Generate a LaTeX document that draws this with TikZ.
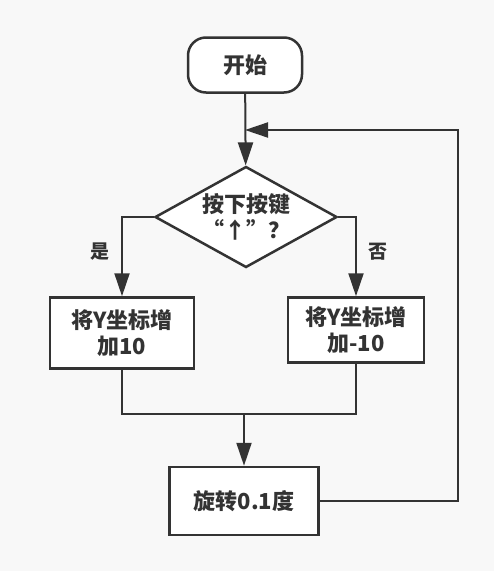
\documentclass[tikz,border=0pt]{standalone}
\usepackage{fontspec}
\newfontfamily\cjk{Noto Sans CJK SC}
\usetikzlibrary{shapes.geometric,arrows.meta}
\definecolor{bg}{HTML}{F8F8F8}
\definecolor{ink}{HTML}{333333}

\begin{document}
\begin{tikzpicture}
[x=1pt,y=-1pt,%%%%%%%%%%%%%%%%%%%%%%%%%%%%%%
txt/.style={text=ink,font=\cjk\bfseries\fontsize{22}{26}\selectfont,align=center,inner sep=0pt},
box/.style={txt,rectangle,draw=ink,line width=2.5pt,fill=white},
startbox/.style={box,rounded corners=18pt,minimum width=114pt,minimum height=55pt},
decbox/.style={txt,diamond,aspect=1.8,draw=ink,line width=2.5pt,fill=white,minimum width=182pt,minimum height=101pt},
lbl/.style={text=ink,font=\cjk\bfseries\fontsize{19}{22}\selectfont,inner sep=0pt},
arr/.style={draw=ink,line width=2pt,-{Triangle[length=23pt,width=15pt]}},
ln/.style={draw=ink,line width=2pt},
]%%%%%%%%%%%%%%%%%%%%%%%%%%%%%%

\useasboundingbox[fill=bg] (0,0) rectangle (494,571);

\node[startbox] (start) at (245,65){开始};
\node[decbox] (dec) at (246,217){按下按键\\“↑”？};
\node[box,minimum width=144pt,minimum height=71pt] (yes) at (122,333){将Y坐标增\\加10};
\node[box,minimum width=136pt,minimum height=65pt] (no) at (356,330){将Y坐标增\\加-10};
\node[box,minimum width=149pt,minimum height=68pt] (rot) at (244,501){旋转0.1度};

\node[lbl] (yeslbl) at (100,252){是};
\node[lbl] (nolbl) at (378,252){否};

\coordinate (join) at (245,130);
\coordinate (merge) at (244,414);
\coordinate (loop) at (458,130);

\draw[arr] (start) -- (dec);
\draw[arr] (dec.west) -| (yes);
\draw[arr] (dec.east) -| (no);
\draw[ln] (yes) |- (merge);
\draw[ln] (no) |- (merge);
\draw[arr] (merge) -- (rot);
\draw[arr] (rot.east) -| (loop) -- (join);
\end{tikzpicture}
\end{document}
